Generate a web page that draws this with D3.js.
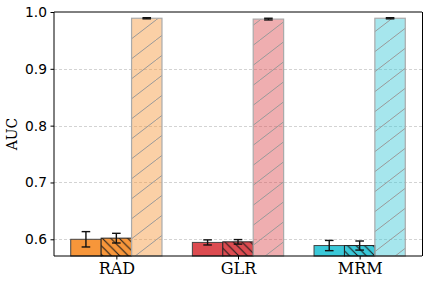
<!DOCTYPE html>
<html>
<head>
<meta charset="utf-8">
<script src="https://cdn.jsdelivr.net/npm/d3@7"></script>
<style>
  body { margin: 0; background: #fff; }
  svg { display: block; }
</style>
</head>
<body>
<div id="chart"></div>
<script>
// data
var groups = ['RAD', 'GLR', 'MRM'];
var series = ['plain', 'hatched', 'light'];
var means = [
  [0.600, 0.602, 0.989],
  [0.5945, 0.5955, 0.9875],
  [0.589, 0.589, 0.989]
];
var errs = [
  [0.0135, 0.0085, 0.001],
  [0.0045, 0.004, 0.0015],
  [0.009, 0.008, 0.001]
];
var yTicks = [0.6, 0.7, 0.8, 0.9, 1.0];
var colors = ['#f7963a', '#dc4b50', '#3ac8d8'];

var width = 429, height = 284;
// plot box (note: "top" is reserved on window, so prefix these)
var pLeft = 54, pRight = 422, pTop = 12, pBottom = 256;
var barW = 0.25;

var svg = d3.select('#chart').append('svg')
    .attr('width', width)
    .attr('height', height);

var defs = svg.append('defs');
// "\\" hatch, black
var hb = 8.5;
defs.append('pattern')
    .attr('id', 'hatchBack')
    .attr('patternUnits', 'userSpaceOnUse')
    .attr('width', hb).attr('height', hb)
  .append('path')
    .attr('d', 'M-1,-1 L' + (hb + 1) + ',' + (hb + 1) +
               ' M-1,' + (hb - 1) + ' L1,' + (hb + 1) +
               ' M' + (hb - 1) + ',-1 L' + (hb + 1) + ',1')
    .attr('stroke', '#1a1a1a')
    .attr('stroke-width', 1.1);
// "/" hatch, sparse gray, a bit flatter than 45deg
var hw = 26, hh = 20;
defs.append('pattern')
    .attr('id', 'hatchFwd')
    .attr('patternUnits', 'userSpaceOnUse')
    .attr('width', hw).attr('height', hh)
  .append('path')
    .attr('d', 'M0,' + hh + ' L' + hw + ',0')
    .attr('stroke', '#999')
    .attr('stroke-width', 1);

var x = d3.scaleLinear().domain([-0.5125, 2.5125]).range([pLeft, pRight]);
var y = d3.scaleLinear().domain([0.5706, 1.0]).range([pBottom, pTop]);

// grid
svg.append('g').selectAll('line')
    .data(yTicks.slice(0, 4))
    .enter().append('line')
    .attr('x1', pLeft).attr('x2', pRight)
    .attr('y1', function (d) { return Math.round(y(d)) + 0.5; })
    .attr('y2', function (d) { return Math.round(y(d)) + 0.5; })
    .attr('stroke', '#c8c8c8')
    .attr('stroke-width', 0.8)
    .attr('stroke-dasharray', '3,2');

// bars
var bars = [];
groups.forEach(function (g, i) {
  series.forEach(function (s, j) {
    bars.push({ g: i, s: j, v: means[i][j], e: errs[i][j] });
  });
});

var barG = svg.append('g');
bars.forEach(function (b) {
  var cx = b.g + (b.s - 1) * barW;
  var x0 = x(cx - barW / 2), x1 = x(cx + barW / 2);
  var rect = function () {
    return barG.append('rect')
      .attr('x', x0).attr('y', y(b.v))
      .attr('width', x1 - x0).attr('height', pBottom - y(b.v));
  };
  if (b.s === 0) {
    rect().attr('fill', colors[b.g]).attr('stroke', '#444').attr('stroke-width', 1);
  } else if (b.s === 1) {
    rect().attr('fill', colors[b.g]);
    rect().attr('fill', 'url(#hatchBack)').attr('stroke', '#222').attr('stroke-width', 1);
  } else {
    rect().attr('fill', colors[b.g]).attr('fill-opacity', 0.45);
    rect().attr('fill', 'url(#hatchFwd)').attr('stroke', '#aaa').attr('stroke-width', 1.2);
  }
});

// error bars
var errG = svg.append('g').attr('stroke', '#111').attr('stroke-width', 1.4);
bars.forEach(function (b) {
  var cx = x(b.g + (b.s - 1) * barW);
  var yt = y(b.v + b.e), yb = y(b.v - b.e);
  errG.append('line').attr('x1', cx).attr('x2', cx).attr('y1', yt).attr('y2', yb);
  errG.append('line').attr('x1', cx - 4.3).attr('x2', cx + 4.3).attr('y1', yt).attr('y2', yt);
  errG.append('line').attr('x1', cx - 4.3).attr('x2', cx + 4.3).attr('y1', yb).attr('y2', yb);
});

// axes
var yAxis = d3.axisLeft(y).tickValues(yTicks).tickFormat(d3.format('.1f')).tickSize(3.5).tickPadding(3.5);
var yg = svg.append('g').attr('transform', 'translate(' + pLeft + ',0)').call(yAxis);
yg.select('.domain').remove();
yg.selectAll('text')
    .attr('font-family', 'DejaVu Sans')
    .attr('font-size', 13.8)
    .attr('fill', '#000');

var xAxis = d3.axisBottom(x).tickValues([0, 1, 2]).tickFormat(function (d) { return groups[d]; }).tickSize(3.5).tickPadding(3);
var xg = svg.append('g').attr('transform', 'translate(0,' + pBottom + ')').call(xAxis);
xg.select('.domain').remove();
xg.selectAll('text')
    .attr('font-family', 'DejaVu Serif')
    .attr('font-size', 16)
    .attr('fill', '#000');

// spines
var sp = svg.append('g').attr('stroke', '#000').attr('stroke-width', 1).attr('fill', 'none');
sp.append('line').attr('x1', pLeft).attr('x2', pLeft).attr('y1', pTop).attr('y2', pBottom);
sp.append('line').attr('x1', pRight + 0.5).attr('x2', pRight + 0.5).attr('y1', pTop).attr('y2', pBottom);
sp.append('line').attr('x1', pLeft).attr('x2', pRight).attr('y1', pTop).attr('y2', pTop);
sp.append('line').attr('x1', pLeft).attr('x2', pRight).attr('y1', pBottom).attr('y2', pBottom);

// y label
svg.append('text')
    .attr('transform', 'translate(17,' + ((pTop + pBottom) / 2) + ') rotate(-90)')
    .attr('text-anchor', 'middle')
    .attr('font-family', 'DejaVu Serif')
    .attr('font-size', 14)
    .text('AUC');
</script>
</body>
</html>
